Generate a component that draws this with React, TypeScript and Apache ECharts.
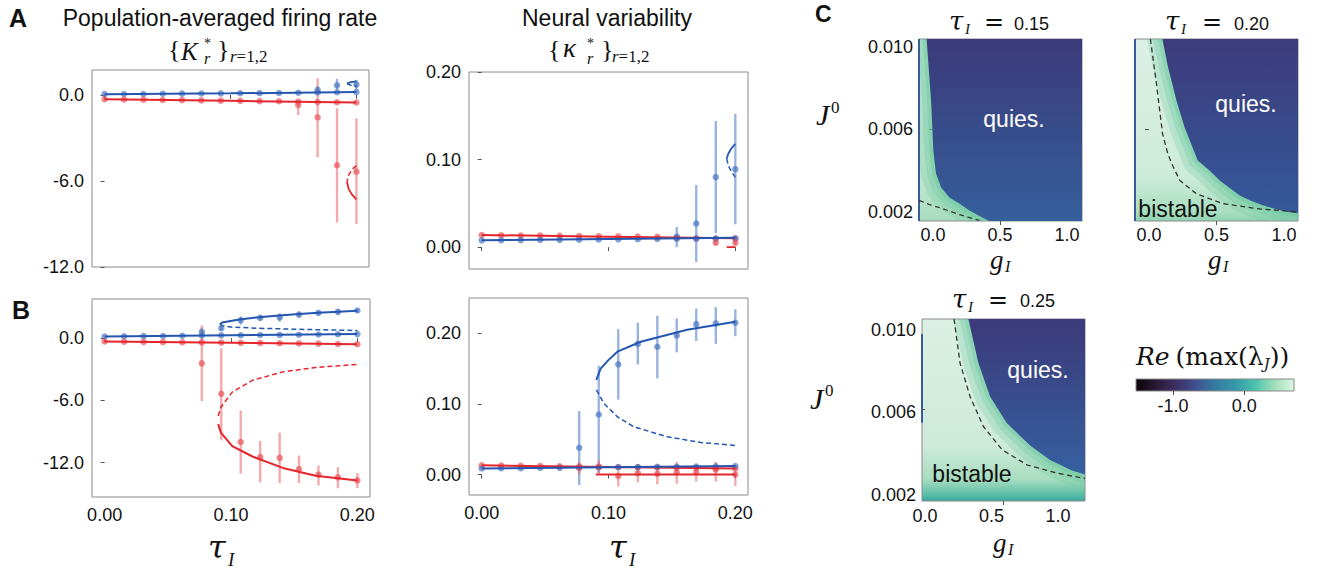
import React, { useEffect, useRef } from "react";
import * as echarts from "echarts";

const SANS = "'Liberation Sans', Arial, Helvetica, sans-serif";
const SERIF = "'Liberation Serif', 'Times New Roman', serif";
const DVSERIF = "'DejaVu Serif', serif";

// ---------- shared ----------
const TAU = [0, 0.0154, 0.0308, 0.0462, 0.0615, 0.0769, 0.0923, 0.1077, 0.1231, 0.1385, 0.1538, 0.1692, 0.1846, 0.2];
const TAU_TICKS = [0, 0.1, 0.2];
const K_TICKS = [-12, -6, 0];
const KA_TICKS = [0, 0.1, 0.2];
const G_TICKS = [0, 0.5, 1];
const J_TICKS = [0.002, 0.006, 0.01];
const CB_TICKS = [-1, 0];

// ---------- Panel A, firing rate K* ----------
const A_K_BLUE_LINE = [[0, 0.05], [0.1, 0.11], [0.2, 0.2]];
const A_K_RED_LINE = [[0, -0.3], [0.1, -0.41], [0.2, -0.53]];
const A_K_BLUE_PTS = [0.06, 0.07, 0.07, 0.08, 0.09, 0.1, 0.11, 0.12, 0.13, 0.14, 0.15, 0.17, 0.19, 0.2];
const A_K_RED_PTS = [-0.3, -0.32, -0.33, -0.35, -0.36, -0.38, -0.4, -0.41, -0.43, -0.44, -0.47, -0.49, -0.51, -0.53];
// [tau, value, low, high]
const A_K_BLUE_EXTRA = [[0.1692, 0.35, 0.15, 0.6], [0.1846, 0.67, 0.35, 1.12], [0.2, 0.72, 0.35, 1.05]];
const A_K_RED_EXTRA = [[0.1538, -0.7, -0.35, -1.4], [0.1692, -1.56, 1.16, -4.35], [0.1846, -4.9, -0.93, -8.9], [0.2, -5.35, -1.63, -9.0]];
const A_K_RED_FOLD_UNSTABLE = [[0.2, -4.93], [0.1965, -5.2], [0.1938, -5.6], [0.1925, -6.05]];
const A_K_RED_FOLD_STABLE = [[0.1925, -6.05], [0.1938, -6.55], [0.1965, -6.95], [0.2, -7.28]];
const A_K_BLUE_FOLD_STABLE = [[0.1925, 0.8], [0.1955, 0.9], [0.2, 0.95]];
const A_K_BLUE_FOLD_UNSTABLE = [[0.1925, 0.8], [0.1955, 0.68], [0.2, 0.6]];

// ---------- Panel A, variability kappa* ----------
const A_V_BLUE_LINE = [[0, 0.0077], [0.1, 0.0092], [0.2, 0.0107]];
const A_V_RED_LINE = [[0, 0.0138], [0.1, 0.0119], [0.2, 0.01]];
const A_V_BLUE_PTS = [0.0077, 0.0078, 0.008, 0.0082, 0.0083, 0.0085, 0.0087, 0.0089, 0.009, 0.0092, 0.0095, 0.0097, 0.0098, 0.01];
const A_V_RED_PTS = [0.0138, 0.0136, 0.0133, 0.0131, 0.0128, 0.0126, 0.0124, 0.0122, 0.012, 0.0117, 0.0105, 0.0098, 0.0098, 0.0099];
const A_V_BLUE_EXTRA = [[0.1538, 0.012, 0.0, 0.023], [0.1692, 0.027, -0.017, 0.071], [0.1846, 0.08, 0.016, 0.144], [0.2, 0.089, 0.026, 0.152]];
const A_V_RED_EXTRA = [[0.1846, 0.005, 0.002, 0.008], [0.2, 0.005, 0.002, 0.008]];
const A_V_RED_LOW = [[0.1932, 0.0], [0.2, 0.0]];
const A_V_BLUE_FOLD_STABLE = [[0.1932, 0.101], [0.1945, 0.107], [0.197, 0.113], [0.2, 0.118]];
const A_V_BLUE_FOLD_UNSTABLE = [[0.1932, 0.101], [0.1945, 0.093], [0.197, 0.086], [0.2, 0.08]];

// ---------- Panel B, firing rate K* ----------
const B_K_BLUE_LINE = [[0, 0.16], [0.1, 0.27], [0.2, 0.39]];
const B_K_RED_LINE = [[0, -0.32], [0.1, -0.45], [0.2, -0.58]];
const B_K_BLUE_UPPER = [[0.0912, 1.34], [0.093, 1.5], [0.1066, 1.79], [0.122, 2.02], [0.138, 2.18], [0.154, 2.32], [0.169, 2.44], [0.185, 2.54], [0.2, 2.64]];
const B_K_BLUE_MID = [[0.0912, 1.34], [0.093, 1.2], [0.1, 1.08], [0.12, 0.96], [0.15, 0.86], [0.2, 0.73]];
const B_K_RED_MID = [[0.0898, -7.5], [0.092, -6.65], [0.101, -5.2], [0.117, -4.06], [0.141, -3.25], [0.167, -2.82], [0.2, -2.53]];
const B_K_RED_LOWER = [[0.0898, -8.28], [0.092, -9.1], [0.101, -10.4], [0.117, -11.4], [0.141, -12.5], [0.167, -13.25], [0.2, -13.7]];
const B_K_BLUE_PTS = [0.16, 0.18, 0.2, 0.21, 0.23, 0.25, 0.27, 0.28, 0.3, 0.31, 0.33, 0.35, 0.37, 0.39];
const B_K_RED_PTS = [-0.32, -0.34, -0.36, -0.38, -0.4, -0.41, -0.43, -0.45, -0.47, -0.49, -0.51, -0.53, -0.56, -0.58];
const B_K_BLUE_EXTRA = [[0.0769, 0.6, 0.1, 1.0], [0.0923, 0.96, 0.7, 1.3], [0.1077, 1.72, 1.3, 2.1], [0.1231, 1.95, 1.7, 2.2], [0.1385, 2.0, 1.6, 2.4], [0.1538, 2.27, 2.0, 2.55], [0.1692, 2.43, 2.2, 2.65], [0.1846, 2.53, 2.25, 2.8], [0.2, 2.66, 2.45, 2.85]];
const B_K_RED_EXTRA = [[0.0769, -2.43, 1.23, -6.07], [0.0923, -5.36, -0.97, -9.84], [0.1077, -10.0, -6.98, -13.05], [0.1231, -11.46, -9.9, -13.9], [0.1385, -11.53, -9.1, -13.96], [0.1538, -12.6, -11.3, -13.96], [0.1692, -13.15, -12.27, -14.19], [0.1846, -13.41, -12.43, -14.45], [0.2, -13.7, -12.99, -14.45]];

// ---------- Panel B, variability kappa* ----------
const B_V_BLUE_LINE = [[0, 0.0085], [0.1, 0.0102], [0.2, 0.012]];
const B_V_RED_LINE = [[0, 0.013], [0.1, 0.0108], [0.2, 0.0085]];
const B_V_RED_LOW = [[0.09, 0.0], [0.2, 0.0]];
const B_V_BLUE_UPPER = [[0.0904, 0.134], [0.0938, 0.15], [0.0999, 0.162], [0.107, 0.174], [0.1254, 0.188], [0.162, 0.205], [0.2, 0.2165]];
const B_V_BLUE_MID = [[0.0904, 0.12], [0.0964, 0.1007], [0.107, 0.0818], [0.12, 0.0676], [0.1465, 0.0534], [0.1729, 0.0454], [0.2, 0.0411]];
const B_V_BLUE_PTS = [0.0085, 0.0088, 0.009, 0.0093, 0.0095, 0.0098, 0.01, 0.0103, 0.0105, 0.0108, 0.011, 0.0113, 0.0115, 0.012];
const B_V_RED_PTS = [0.013, 0.0127, 0.0123, 0.012, 0.0117, 0.0113, 0.011, 0.0107, 0.0103, 0.01, 0.0097, 0.0093, 0.009, 0.0087];
const B_V_BLUE_EXTRA = [[0.0769, 0.038, -0.015, 0.09], [0.0923, 0.085, 0.002, 0.154], [0.1077, 0.156, 0.106, 0.206], [0.1231, 0.185, 0.156, 0.215], [0.1385, 0.181, 0.136, 0.225], [0.1538, 0.197, 0.173, 0.221], [0.1692, 0.213, 0.189, 0.235], [0.1846, 0.214, 0.185, 0.237], [0.2, 0.215, 0.196, 0.234]];
const B_V_RED_EXTRA = [[0.0769, 0.0095, 0.0, 0.018], [0.0923, 0.011, 0.001, 0.02], [0.1077, -0.002, -0.017, 0.006], [0.1231, 0.002, -0.011, 0.014], [0.1385, 0.001, -0.014, 0.013], [0.1538, 0.003, -0.013, 0.018], [0.1692, 0.003, -0.01, 0.013], [0.1846, 0.007, -0.01, 0.018], [0.2, 0.0, -0.016, 0.011]];

// ---------- Panel C: quiescent-region boundaries [g_I, J0] and dashed curves ----------
const C1_QUIES = [[-0.048, 0.01039], [-0.015, 0.00741], [0.002, 0.00498], [0.022, 0.00387], [0.06, 0.00319], [0.122, 0.0027], [0.196, 0.00241], [0.271, 0.00207], [0.368, 0.00173], [0.42, 0.00156], [1.112, 0.00156]];
const C1_DASH = [[-0.104, 0.00256], [-0.028, 0.00236], [0.072, 0.00216], [0.196, 0.00187], [0.346, 0.00159]];
const C2_QUIES = [[0.099, 0.01039], [0.141, 0.00902], [0.203, 0.00741], [0.264, 0.0061], [0.3, 0.0055], [0.361, 0.0045], [0.45, 0.004], [0.524, 0.00353], [0.6, 0.00315], [0.672, 0.0028], [0.75, 0.00255], [0.842, 0.00232], [0.95, 0.00212], [1.04, 0.00198], [1.104, 0.00193]];
const C2_DASH = [[0.01, 0.01039], [0.055, 0.00822], [0.1, 0.0058], [0.14, 0.0048], [0.178, 0.0042], [0.228, 0.00353], [0.351, 0.00288], [0.548, 0.0024], [0.796, 0.00216], [1.104, 0.002]];
const C3_QUIES = [[0.326, 0.01053], [0.401, 0.0084], [0.489, 0.00678], [0.614, 0.00549], [0.677, 0.0051], [0.79, 0.0044], [0.94, 0.0037], [1.1, 0.0032], [1.203, 0.003]];
const C3_DASH = [[0.218, 0.01053], [0.263, 0.0084], [0.338, 0.00678], [0.439, 0.00532], [0.58, 0.00419], [0.77, 0.00345], [1.0, 0.00305], [1.203, 0.0028]];
const C1_EDGE = [[-0.105, 0.00156], [-0.105, 0.01039]];
const C2_EDGE = [[-0.104, 0.00156], [-0.104, 0.01039]];
const C3_EDGE = [[-0.023, 0.0055], [-0.023, 0.0098]];

// colormap (mako-like) for the colour bar
const MAKO = [[0, "#0b0405"], [0.125, "#281a33"], [0.25, "#3e2f63"], [0.375, "#3f4f8f"], [0.5, "#357ba2"], [0.625, "#3497a9"], [0.75, "#49c1ad"], [0.875, "#a0dfb9"], [1, "#def5e5"]];

const BLUE_LINE = "#2456b0";
const RED_LINE = "#e4262c";
const BLUE_PT = "rgba(70,115,195,0.85)";
const RED_PT = "rgba(232,80,85,0.85)";
const BLUE_ERR = "rgba(85,130,205,0.6)";
const RED_ERR = "rgba(235,100,105,0.55)";

const lin = (stops: any[], vertical = true) => ({
  type: "linear", x: 0, y: 0, x2: vertical ? 0 : 1, y2: vertical ? 1 : 0,
  colorStops: stops.map((s) => ({ offset: s[0], color: s[1] })),
});

function buildOption() {
  const BGS: any[] = [
    "transparent", "transparent", "transparent", "transparent",
    lin([[0, "#d3eddf"], [0.7, "#c3e7d1"], [1, "#a9ddc0"]]),
    lin([[0, "#dcf0e5"], [0.75, "#cdebda"], [0.95, "#a9dec0"], [1, "#8fd3b2"]]),
    lin([[0, "#dbf0e4"], [0.7, "#cdeada"], [0.88, "#a8ddc0"], [0.96, "#5fc1a8"], [1, "#3aa8a2"]]),
    lin(MAKO, false),
  ];
  const grid = [
    { left: 92, top: 70, width: 277, height: 197 },
    { left: 469, top: 72, width: 279, height: 197 },
    { left: 92, top: 299, width: 278, height: 198 },
    { left: 469, top: 298, width: 279, height: 197 },
    { left: 919, top: 39, width: 163, height: 182 },
    { left: 1135, top: 39, width: 163, height: 182 },
    { left: 922, top: 319, width: 163, height: 182 },
    { left: 1136, top: 379, width: 158, height: 12 },
  ].map((g, i) => ({ ...g, show: true, borderColor: "#8a8a8a", borderWidth: 1, backgroundColor: BGS[i] }));

  const f1 = (v: number) => v.toFixed(1);
  const f2 = (v: number) => v.toFixed(2);
  const f3 = (v: number) => v.toFixed(3);
  const ax = (gi: number, min: number, max: number, labels: number[], ticks: number[], fmt: any, margin = 8) => ({
    type: "value", gridIndex: gi, min, max,
    splitLine: { show: false }, axisLine: { show: false },
    axisTick: { show: ticks.length > 0, customValues: ticks, length: 4, lineStyle: { color: "#555", width: 1 } },
    axisLabel: { show: labels.length > 0, customValues: labels, formatter: (v: number) => fmt(v), fontSize: 18, fontFamily: SANS, color: "#111", margin },
  });

  const xAxis = [
    ax(0, -0.01, 0.21, [], TAU_TICKS, f2),
    ax(1, -0.01, 0.21, [], TAU_TICKS, f2),
    ax(2, -0.01, 0.21, TAU_TICKS, TAU_TICKS, f2, 9),
    ax(3, -0.01, 0.21, TAU_TICKS, TAU_TICKS, f2, 9),
    ax(4, -0.105, 1.112, G_TICKS, [0.5], f1, 5),
    ax(5, -0.104, 1.104, G_TICKS, [0.5], f1, 5),
    ax(6, -0.023, 1.203, G_TICKS, [0.588], f1, 6),
    ax(7, -1.52, 0.7, CB_TICKS, CB_TICKS, f1, 6),
  ];
  const yAxis = [
    ax(0, -12, 1.74, K_TICKS, K_TICKS, f1),
    ax(1, -0.025, 0.2, KA_TICKS, KA_TICKS, f2),
    ax(2, -15.3, 3.77, K_TICKS, K_TICKS, f1),
    ax(3, -0.029, 0.25, KA_TICKS, KA_TICKS, f2),
    ax(4, 0.00156, 0.01039, J_TICKS, [0.006], f3, 6),
    ax(5, 0.00156, 0.01039, [], [0.006], f3, 6),
    ax(6, 0.00171, 0.01053, J_TICKS, [0.00617], f3, 6),
    ax(7, 0, 1, [], [], f1),
  ];

  const S: any[] = [];
  const line = (g: number, data: any[], color: string, dashed = false, w = 2, dash: number[] = [5, 3], z = 5) =>
    S.push({ type: "line", xAxisIndex: g, yAxisIndex: g, data, symbol: "none", silent: true, z,
      lineStyle: { color, width: w, type: dashed ? dash : "solid" } });
  const pts = (g: number, data: any[], color: string) =>
    S.push({ type: "scatter", xAxisIndex: g, yAxisIndex: g, data, symbol: "circle", symbolSize: 6.5, silent: true, z: 4, itemStyle: { color } });
  const err = (g: number, data: any[], color: string) =>
    S.push({ type: "custom", xAxisIndex: g, yAxisIndex: g, data, silent: true, z: 3,
      renderItem: (_p: any, api: any) => {
        const a = api.coord([api.value(0), api.value(1)]);
        const b = api.coord([api.value(0), api.value(2)]);
        return { type: "line", shape: { x1: a[0], y1: a[1], x2: b[0], y2: b[1] }, style: { stroke: color, lineWidth: 2.4 } };
      } });
  const main = (vals: number[]) => TAU.map((t, i) => [t, vals[i]]);
  const extraPts = (e: number[][]) => e.map((r) => [r[0], r[1]]);
  const extraErr = (e: number[][]) => e.map((r) => [r[0], r[2], r[3]]);

  // A left
  err(0, extraErr(A_K_BLUE_EXTRA), BLUE_ERR); err(0, extraErr(A_K_RED_EXTRA), RED_ERR);
  pts(0, main(A_K_BLUE_PTS), BLUE_PT); pts(0, main(A_K_RED_PTS), RED_PT);
  pts(0, extraPts(A_K_BLUE_EXTRA), BLUE_PT); pts(0, extraPts(A_K_RED_EXTRA), RED_PT);
  line(0, A_K_BLUE_LINE, BLUE_LINE); line(0, A_K_RED_LINE, RED_LINE);
  line(0, A_K_RED_FOLD_UNSTABLE, RED_LINE, true, 1.5); line(0, A_K_RED_FOLD_STABLE, RED_LINE, false, 1.8);
  line(0, A_K_BLUE_FOLD_STABLE, BLUE_LINE, false, 1.8); line(0, A_K_BLUE_FOLD_UNSTABLE, BLUE_LINE, true, 1.5);
  // A right
  err(1, extraErr(A_V_BLUE_EXTRA), BLUE_ERR); err(1, extraErr(A_V_RED_EXTRA), RED_ERR);
  pts(1, main(A_V_RED_PTS), RED_PT); pts(1, main(A_V_BLUE_PTS), BLUE_PT);
  pts(1, extraPts(A_V_BLUE_EXTRA), BLUE_PT); pts(1, extraPts(A_V_RED_EXTRA), RED_PT);
  line(1, A_V_RED_LINE, RED_LINE); line(1, A_V_BLUE_LINE, BLUE_LINE);
  line(1, A_V_RED_LOW, RED_LINE, false, 1.8);
  line(1, A_V_BLUE_FOLD_STABLE, BLUE_LINE, false, 1.8); line(1, A_V_BLUE_FOLD_UNSTABLE, BLUE_LINE, true, 1.5);
  // B left
  err(2, extraErr(B_K_BLUE_EXTRA), BLUE_ERR); err(2, extraErr(B_K_RED_EXTRA), RED_ERR);
  pts(2, main(B_K_BLUE_PTS), BLUE_PT); pts(2, main(B_K_RED_PTS), RED_PT);
  pts(2, extraPts(B_K_BLUE_EXTRA), BLUE_PT); pts(2, extraPts(B_K_RED_EXTRA), RED_PT);
  line(2, B_K_BLUE_LINE, BLUE_LINE); line(2, B_K_RED_LINE, RED_LINE);
  line(2, B_K_BLUE_UPPER, BLUE_LINE); line(2, B_K_BLUE_MID, BLUE_LINE, true, 1.5);
  line(2, B_K_RED_MID, RED_LINE, true, 1.5); line(2, B_K_RED_LOWER, RED_LINE);
  // B right
  err(3, extraErr(B_V_BLUE_EXTRA), BLUE_ERR); err(3, extraErr(B_V_RED_EXTRA), RED_ERR);
  pts(3, main(B_V_RED_PTS), RED_PT); pts(3, main(B_V_BLUE_PTS), BLUE_PT);
  pts(3, extraPts(B_V_BLUE_EXTRA), BLUE_PT); pts(3, extraPts(B_V_RED_EXTRA), RED_PT);
  line(3, B_V_RED_LINE, RED_LINE); line(3, B_V_BLUE_LINE, BLUE_LINE); line(3, B_V_RED_LOW, RED_LINE);
  line(3, B_V_BLUE_UPPER, BLUE_LINE); line(3, B_V_BLUE_MID, BLUE_LINE, true, 1.5);

  // Panel C maps: green transition band along the boundary (clipped to the grid), then the quiescent region on top
  const band = (g: number, data: number[][]) =>
    S.push({ type: "custom", xAxisIndex: g, yAxisIndex: g, data, clip: true, silent: true, z: 1,
      renderItem: (p: any, api: any) => {
        if (p.dataIndex !== 0) return null;
        const pts2 = data.map((d) => api.coord(d));
        const cs = p.coordSys;
        return {
          type: "group",
          clipPath: { type: "rect", shape: { x: cs.x, y: cs.y, width: cs.width, height: cs.height } },
          children: [
            { type: "polyline", shape: { points: pts2 }, style: { fill: null, stroke: "rgba(115,202,162,0.3)", lineWidth: 30, lineJoin: "round", lineCap: "round" } },
            { type: "polyline", shape: { points: pts2 }, style: { fill: null, stroke: "rgba(105,200,158,0.3)", lineWidth: 18, lineJoin: "round", lineCap: "round" } },
            { type: "polyline", shape: { points: pts2 }, style: { fill: null, stroke: "rgba(90,195,150,0.3)", lineWidth: 8, lineJoin: "round", lineCap: "round" } },
          ],
        };
      } });
  const quies = (g: number, data: any[], top: string, bot: string) =>
    S.push({ type: "line", xAxisIndex: g, yAxisIndex: g, data, symbol: "none", silent: true, z: 2,
      lineStyle: { width: 0, opacity: 0 },
      areaStyle: { origin: "end", opacity: 1, color: lin([[0, top], [1, bot]]) } });
  band(4, C1_QUIES); band(5, C2_QUIES); band(6, C3_QUIES);
  quies(4, C1_QUIES, "#3c3a7a", "#345f9b");
  quies(5, C2_QUIES, "#3d3b7b", "#34599a");
  quies(6, C3_QUIES, "#3c3a7a", "#3560a0");
  line(4, C1_EDGE, "#3a5a9c", false, 2); line(5, C2_EDGE, "#3a5a9c", false, 2); line(6, C3_EDGE, "#3a5a9c", false, 2);
  line(4, C1_DASH, "#333", true, 1.3, [5, 3.5]);
  line(5, C2_DASH, "#333", true, 1.3, [5, 3.5]);
  line(6, C3_DASH, "#333", true, 1.3, [5, 3.5]);

  // ---------- texts ----------
  const T = (x: number, y: number, text: string, size: number, o: any = {}) => ({
    type: "text", x, y, silent: true, z: 100,
    style: { text, fontSize: size, fontFamily: o.ff || SANS, fontStyle: o.it ? "italic" : "normal", fontWeight: o.bold ? "bold" : "normal",
      fill: o.fill || "#111", align: o.align || "left", verticalAlign: "middle", lineHeight: o.lh },
  });
  const R = (x: number, y: number, text: string, rich: any) => ({
    type: "text", x, y, silent: true, z: 100,
    style: { text, rich, fill: "#111", align: "left", verticalAlign: "middle" },
  });
  const it = { ff: SERIF, it: true };
  const itS = { ff: SERIF, it: true, lh: 12 };
  const rm = { ff: SERIF };
  const tau = { ff: DVSERIF, it: true, lh: 24 };
  const starR = { s: { fontFamily: SERIF, fontSize: 14, lineHeight: 14 }, r: { fontFamily: SERIF, fontStyle: "italic", fontSize: 16, lineHeight: 16 } };
  const subR = { i: { fontFamily: SERIF, fontStyle: "italic", fontSize: 17 }, n: { fontFamily: SERIF, fontSize: 17 } };
  const G: any[] = [
    T(9, 18, "A", 25, { bold: true }), T(12, 310, "B", 25, { bold: true }), T(815, 14, "C", 23, { bold: true }),
    T(220, 18, "Population-averaged firing rate", 23, { align: "center" }),
    T(607, 18, "Neural variability", 23, { align: "center" }),
    // {K*_r}_{r=1,2}
    T(168, 49, "{", 26, rm), T(181, 51, "K", 25, it), R(204, 51.5, "{s|*}\n{r|r}", starR),
    T(217, 49, "}", 26, rm), R(230, 56, "{i|r}{n|=1,2}", subR),
    // {kappa*_r}_{r=1,2}
    T(548, 49, "{", 26, rm), T(563, 48, "κ", 27, it), R(587, 51.5, "{s|*}\n{r|r}", starR),
    T(601, 49, "}", 26, rm), R(612, 56, "{i|r}{n|=1,2}", subR),
    // tau_I axis labels
    T(208, 547, "τ", 32, tau), T(228, 559, "I", 19, it),
    T(609, 547, "τ", 32, tau), T(629, 559, "I", 19, it),
    // C titles
    T(949, 21, "τ", 26, tau), T(965, 29, "I", 15, it), T(984, 22, "=", 24, { ff: DVSERIF }), T(1014, 23.5, "0.15", 18),
    T(1165, 21, "τ", 26, tau), T(1181, 29, "I", 15, it), T(1202, 22, "=", 24, { ff: DVSERIF }), T(1234, 23.5, "0.20", 18),
    T(952, 298.5, "τ", 26, tau), T(968, 307, "I", 15, it), T(988, 300, "=", 24, { ff: DVSERIF }), T(1020, 300.5, "0.25", 18),
    // J^0
    T(816, 114, "J", 30, { ff: SERIF, it: true, lh: 20 }), T(831, 107, "0", 17, rm),
    T(810, 398, "J", 30, { ff: SERIF, it: true, lh: 20 }), T(825, 390, "0", 17, rm),
    // g_I
    T(990, 260, "g", 27, itS), T(1005, 266, "I", 16, it),
    T(1208, 260, "g", 27, itS), T(1223, 266, "I", 16, it),
    T(993, 543, "g", 27, itS), T(1008, 549, "I", 16, it),
    // region labels
    T(1014, 119, "quies.", 23, { align: "center", fill: "#ffffff" }),
    T(1246, 104, "quies.", 23, { align: "center", fill: "#ffffff" }),
    T(1038, 370, "quies.", 23, { align: "center", fill: "#ffffff" }),
    T(1178, 208.5, "bistable", 23, { align: "center" }),
    T(972, 473.5, "bistable", 23, { align: "center" }),
    // colour-bar label
    R(1136, 356, "{a|Re}{b|(max(λ}{c|J}{b|))}", {
      a: { fontFamily: DVSERIF, fontStyle: "italic", fontSize: 25, lineHeight: 30, padding: [0, 6, 0, 0] },
      b: { fontFamily: DVSERIF, fontSize: 25, lineHeight: 30 },
      c: { fontFamily: DVSERIF, fontStyle: "italic", fontSize: 15, lineHeight: 15, verticalAlign: "bottom" },
    }),
  ];

  return { animation: false, backgroundColor: "#ffffff", grid, xAxis, yAxis, series: S, graphic: { elements: G } };
}

export default function App() {
  const ref = useRef<HTMLDivElement>(null);
  useEffect(() => {
    const chart = echarts.init(ref.current!, null, { renderer: "svg" });
    chart.setOption(buildOption() as any);
    return () => chart.dispose();
  }, []);
  return <div ref={ref} style={{ position: "fixed", left: 0, top: 0, width: 1322, height: 573, background: "#fff" }} />;
}
